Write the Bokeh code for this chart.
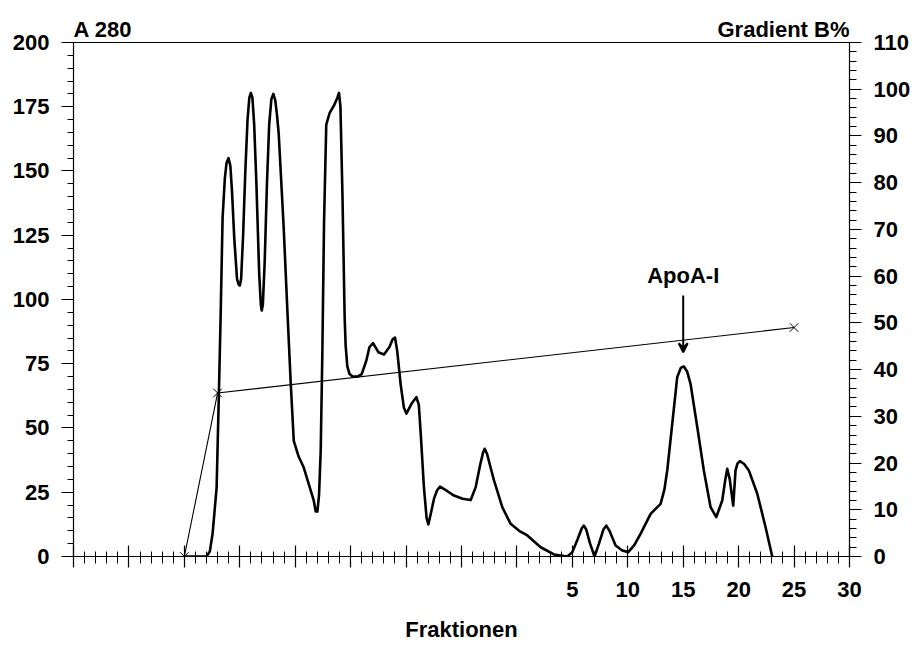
from bokeh.plotting import figure
from bokeh.models import (Range1d, LinearAxis, SingleIntervalTicker, Label, Arrow, VeeHead, Span)
from bokeh.embed import file_html
from bokeh.resources import INLINE

# ---------------- data ----------------
frac_x = [-30.0, -28.0, -27.7, -27.45, -27.09, -26.9, -26.73, -26.55, -26.35, -26.2, -26.02, -25.85,
          -25.7, -25.5, -25.25, -25.1, -25.0, -24.88, -24.7, -24.5, -24.3, -24.14, -24.0, -23.86,
          -23.7, -23.5, -23.25, -23.1, -23.02, -22.92, -22.75, -22.55, -22.35, -22.15, -21.97,
          -21.8, -21.65, -21.49, -21.04, -20.7, -20.4, -20.13, -19.7, -19.23, -18.33, -18.15,
          -18.0, -17.85, -17.7, -17.55, -17.4, -17.2, -16.9, -16.5, -16.2, -16.05, -15.92,
          -15.74, -15.54, -15.45, -15.3, -15.1, -14.8, -14.39, -14.0, -13.6, -13.3, -12.98,
          -12.5, -11.99, -11.5, -11.2, -11.0, -10.8, -10.49, -10.2, -9.97, -9.5, -9.07, -8.85,
          -8.68, -8.39, -8.15, -7.99, -7.75, -7.48, -7.2, -6.94, -6.3, -5.68, -4.9, -4.17,
          -3.72, -3.3, -3.05, -2.91, -2.7, -2.4, -2.07, -1.32, -0.57, 0.2, 0.94, 2.14, 3.34,
          4.54, 5.0, 5.5, 5.85, 6.04, 6.25, 6.6, 7.0, 7.4, 7.8, 8.06, 8.35, 8.9, 9.5, 10.05,
          10.6, 11.15, 12.06, 12.96, 13.3, 13.56, 14.01, 14.46, 14.8, 15.06, 15.35, 15.66,
          16.27, 16.86, 17.47, 17.98, 18.52, 18.8, 18.97, 19.2, 19.51, 19.72, 19.9, 20.11,
          20.5, 20.92, 21.68, 22.43, 23.03]
a280 = [0, 0, 2, 9, 26.8, 60.7, 93, 131.9, 147, 153, 155, 152,
        142, 124, 108, 105.8, 105.4, 108, 125, 150, 170, 178.5, 180.4, 178.5,
        168, 145, 110, 98, 95.7, 98, 115, 145, 168, 178, 180,
        177.5, 172, 164.6, 128, 95, 67, 45, 39, 34.6, 21.8, 17.5,
        17.5, 24, 41, 80, 130, 168, 172.5, 175.5, 178.5, 180.4, 175,
        141, 93, 82, 74, 71, 70, 70, 71, 76, 81.5, 83,
        79.5, 78.6, 81.5, 84.6, 85.2, 80, 67, 58, 55.6, 59.5, 62, 59,
        47.9, 27, 15, 12.5, 17, 22.5, 25.8, 27.2, 25.5, 23.7, 22.5, 22,
        27, 36, 40.5, 41.9, 40, 35, 29.6, 19.2, 12.7, 10, 8.2, 3.6, 0.8,
        0, 1.7, 7, 11, 12, 10.5, 5, 0, 5, 10.5, 12, 10, 4.3, 2.3, 1.7,
        4.5, 8.8, 16.6, 20.5, 26, 33.5, 51.6, 69.8, 73.5, 73.9, 72, 67.2,
        50.3, 33.5, 19.2, 15.3, 21.8, 30, 34.1, 30, 19.8, 33.5, 36.2, 37.1,
        36, 33.5, 24.4, 11.4, 0]

grad_x = [-30, -27, 25]
grad_b = [0, 35, 49]

x_tick_labels = {5: "5", 10: "10", 15: "15", 20: "20", 25: "25", 30: "30"}

A_MAX = 200          # left axis top
B_MAX = 110          # right axis top
TOP_ROOM = 216.34    # left-scale value at the canvas top (room for the header texts)

FONT = "Liberation Sans"

# ---------------- figure ----------------
p = figure(width=916, height=646, output_backend="svg", toolbar_location=None,
           x_range=Range1d(-40, 30), y_range=Range1d(0, TOP_ROOM),
           min_border_left=73, min_border_right=67, min_border_top=0, min_border_bottom=90,
           background_fill_color="white", border_fill_color="white")
p.extra_y_ranges = {"grad": Range1d(0, B_MAX * TOP_ROOM / A_MAX)}
p.xgrid.visible = False
p.ygrid.visible = False
p.outline_line_color = None

# x axis
xa = p.xaxis[0]
xa.ticker = SingleIntervalTicker(interval=5, num_minor_ticks=5)
overrides = {}
for v in range(-40, 35, 5):
    overrides[v] = x_tick_labels.get(v, "")
xa.major_label_overrides = overrides
xa.major_tick_in = 11
xa.major_tick_out = 11
xa.minor_tick_in = 5
xa.minor_tick_out = 7
xa.major_label_standoff = 14
xa.axis_label = "Fraktionen"
xa.axis_label_standoff = 17
xa.axis_label_text_font = FONT
xa.axis_label_text_font_style = "bold"
xa.axis_label_text_font_size = "22px"
xa.axis_label_text_color = "black"

# left axis
ya = p.yaxis[0]
ya.ticker = SingleIntervalTicker(interval=25, num_minor_ticks=5)
ya.bounds = (0, A_MAX)
ya.major_tick_in = 0
ya.major_tick_out = 12
ya.minor_tick_in = 0
ya.minor_tick_out = 6
ya.major_label_standoff = 12

# right axis
ra = LinearAxis(y_range_name="grad", ticker=SingleIntervalTicker(interval=10, num_minor_ticks=5))
ra.bounds = (0, B_MAX)
ra.major_tick_in = 0
ra.major_tick_out = 12
ra.minor_tick_in = 0
ra.minor_tick_out = 7
ra.major_label_standoff = 12
p.add_layout(ra, "right")

for ax in (xa, ya, ra):
    ax.axis_line_color = "black"
    ax.axis_line_width = 1.2
    ax.major_tick_line_color = "black"
    ax.major_tick_line_width = 1.2
    ax.minor_tick_line_color = "black"
    ax.minor_tick_line_width = 1
    ax.major_label_text_font = FONT
    ax.major_label_text_font_style = "bold"
    ax.major_label_text_font_size = "22px"
    ax.major_label_text_color = "black"

# top border of the plotting box
p.add_layout(Span(location=A_MAX, dimension="width", line_color="black", line_width=1.2))

# ---------------- glyphs ----------------
p.line(frac_x, a280, line_color="black", line_width=2.6, line_join="round")
p.line(grad_x, grad_b, y_range_name="grad", line_color="black", line_width=1.1)
p.scatter(grad_x, grad_b, y_range_name="grad", marker="x", size=12,
          line_color="black", line_width=1)

# ---------------- annotations ----------------
def lab(x, y, text, align):
    return Label(x=x, y=y, text=text, text_align=align, text_baseline="alphabetic",
                 text_font=FONT, text_font_style="bold", text_font_size="22px",
                 text_color="black")

p.add_layout(lab(-40, 204.9, "A 280", "left"))
p.add_layout(lab(30, 204.9, "Gradient B%", "right"))
p.add_layout(lab(15, 109.3, "ApoA-I", "center"))
p.add_layout(Arrow(x_start=15, y_start=101.6, x_end=15, y_end=79.5,
                   line_color="black", line_width=2,
                   end=VeeHead(size=9, line_color="black", line_width=2)))

open("out.html", "w").write(file_html(p, INLINE))
